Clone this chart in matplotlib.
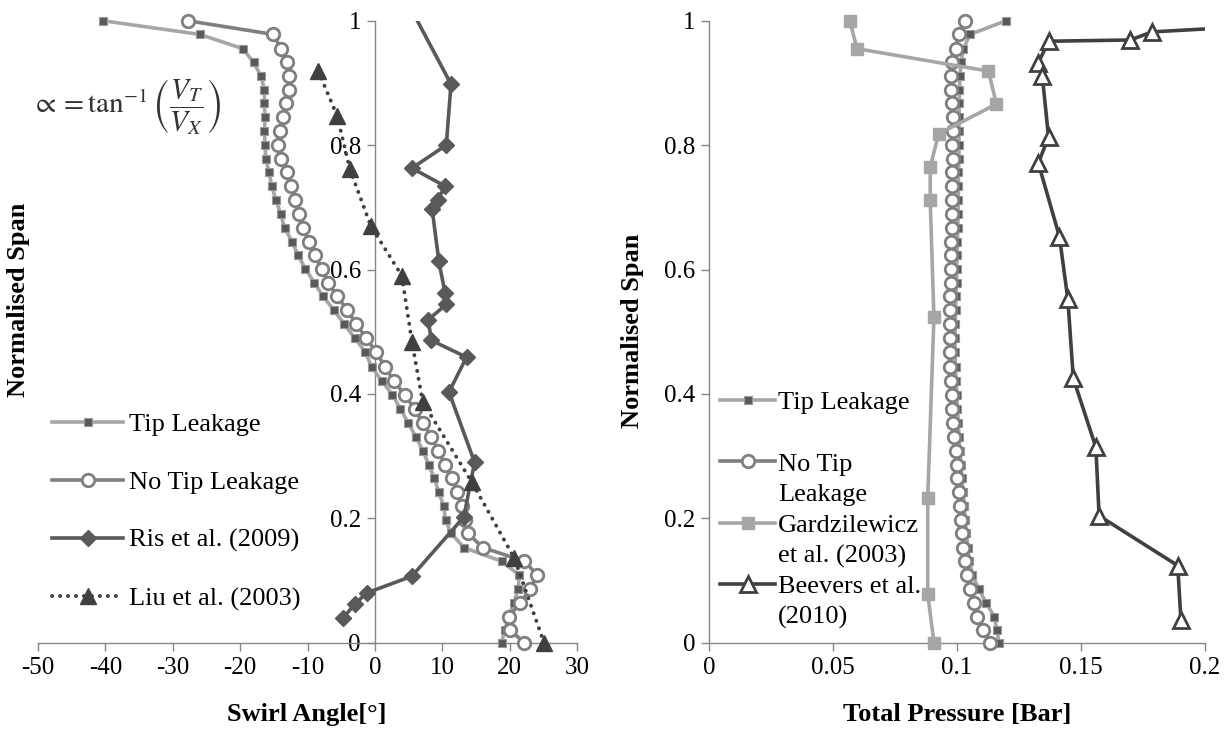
import matplotlib
matplotlib.use('Agg')
import matplotlib.pyplot as plt
from matplotlib.lines import Line2D
from matplotlib.ticker import FuncFormatter

plt.rcParams['font.family'] = ['Liberation Serif', 'DejaVu Serif']
plt.rcParams['mathtext.fontset'] = 'stix'
plt.rcParams['axes.unicode_minus'] = False

# ---------------- data ----------------
span_cfd = [1.0, 0.978, 0.955, 0.933, 0.911, 0.889, 0.867, 0.845, 0.822, 0.800,
            0.778, 0.756, 0.734, 0.712, 0.690, 0.667, 0.645, 0.623, 0.601, 0.579,
            0.557, 0.535, 0.513, 0.490, 0.467, 0.444, 0.421, 0.399, 0.376, 0.354,
            0.331, 0.309, 0.286, 0.265, 0.242, 0.220, 0.197, 0.176, 0.153, 0.131,
            0.109, 0.086, 0.064, 0.042, 0.021, 0.0]

swirl_tip = [-40.4, -26.0, -19.6, -18.0, -16.9, -16.4, -16.4, -16.3, -16.4, -16.3,
             -16.2, -15.7, -15.3, -14.7, -14.0, -13.4, -12.3, -11.4, -10.3, -9.0,
             -7.7, -6.1, -4.6, -3.0, -1.4, -0.5, 1.0, 2.6, 3.8, 4.9,
             6.1, 7.1, 8.0, 8.8, 9.5, 10.2, 10.5, 11.3, 13.2, 18.8,
             21.4, 21.3, 20.6, 19.9, 19.3, 18.8]

swirl_notip = [-27.8, -15.1, -13.9, -13.1, -12.8, -12.7, -13.2, -13.7, -14.1, -14.4,
               -13.9, -13.1, -12.4, -11.9, -11.2, -10.7, -9.8, -8.9, -7.9, -6.9,
               -5.6, -4.1, -2.8, -1.3, 0.2, 1.5, 2.8, 4.4, 5.9, 7.1,
               8.4, 9.4, 10.4, 11.4, 12.2, 12.9, 13.4, 13.8, 16.0, 22.2,
               24.1, 23.0, 21.6, 19.9, 20.1, 22.1]

ris_span = [1.05, 0.898, 0.800, 0.763, 0.734, 0.711, 0.697, 0.613, 0.563, 0.544,
            0.519, 0.486, 0.459, 0.403, 0.290, 0.202, 0.107, 0.080, 0.063, 0.040]
ris_swirl = [3.85, 11.3, 10.6, 5.5, 10.4, 9.3, 8.5, 9.5, 10.4, 10.6,
             7.9, 8.4, 13.6, 11.0, 14.8, 13.2, 5.5, -1.2, -2.9, -4.7]

liu_span = [0.919, 0.847, 0.761, 0.670, 0.590, 0.484, 0.387, 0.258, 0.136, 0.0]
liu_swirl = [-8.4, -5.6, -3.7, -0.6, 4.0, 5.5, 7.1, 14.4, 20.7, 25.1]

ptot_tip = [0.1198, 0.1053, 0.1026, 0.1016, 0.1012, 0.1010, 0.1010, 0.1008, 0.1008, 0.1008,
            0.1008, 0.1006, 0.1006, 0.1005, 0.1005, 0.1003, 0.1002, 0.1000, 0.0999, 0.0998,
            0.0996, 0.0994, 0.0993, 0.0992, 0.0992, 0.0994, 0.0996, 0.0999, 0.1002, 0.1005,
            0.1008, 0.1012, 0.1016, 0.1020, 0.1025, 0.1029, 0.1033, 0.1038, 0.1044, 0.1050,
            0.1062, 0.1088, 0.1118, 0.1150, 0.1161, 0.1169]

ptot_notip = [0.1034, 0.1008, 0.0994, 0.0981, 0.0975, 0.0975, 0.0981, 0.0983, 0.0983, 0.0981,
              0.0983, 0.0981, 0.0981, 0.0978, 0.0978, 0.0978, 0.0975, 0.0975, 0.0975, 0.0975,
              0.0973, 0.0973, 0.0973, 0.0970, 0.0970, 0.0973, 0.0975, 0.0978, 0.0981, 0.0983,
              0.0989, 0.0994, 0.0999, 0.1002, 0.1007, 0.1013, 0.1016, 0.1021, 0.1026, 0.1034,
              0.1040, 0.1053, 0.1067, 0.1080, 0.1104, 0.1134]

gard_span = [0.999, 0.955, 0.919, 0.866, 0.818, 0.765, 0.711, 0.523, 0.233, 0.078, 0.0]
gard_p = [0.0568, 0.0597, 0.1127, 0.1159, 0.0926, 0.0892, 0.0892, 0.0907, 0.0882, 0.0882, 0.0907]

beev_span = [0.990, 0.982, 0.969, 0.967, 0.932, 0.911, 0.813, 0.771, 0.653, 0.552,
             0.425, 0.314, 0.204, 0.124, 0.036]
beev_p = [0.215, 0.1786, 0.1699, 0.1369, 0.1328, 0.1344, 0.1369, 0.1328, 0.1413, 0.1447,
          0.1469, 0.1560, 0.1573, 0.1890, 0.1903]

swirl_ticks = [-50, -40, -30, -20, -10, 0, 10, 20, 30]
ptot_ticks = [0, 0.05, 0.1, 0.15, 0.2]
span_ticks = [0, 0.2, 0.4, 0.6, 0.8, 1]

# ---------------- styles ----------------
C_LIGHT = '#a6a6a6'
C_MID = '#7f7f7f'
C_DARK = '#595959'
C_DARKER = '#404040'
AX_COL = '#868686'

st_tip = dict(color=C_LIGHT, lw=2.6, marker='s', ms=6, mfc=C_DARK, mec='#9a9a9a', mew=0.8)
st_notip = dict(color=C_MID, lw=2.6, marker='o', ms=9, mfc='white', mec=C_MID, mew=2.0)
st_ris = dict(color=C_DARK, lw=2.6, marker='D', ms=8.5, mfc=C_DARK, mec=C_DARK)
st_liu = dict(color=C_DARKER, lw=2.8, ls=(0, (0.05, 2.0)), dash_capstyle='round',
              marker='^', ms=11, mfc=C_DARKER, mec=C_DARKER)
st_gard = dict(color=C_LIGHT, lw=2.6, marker='s', ms=9, mfc=C_LIGHT, mec=C_LIGHT)
st_beev = dict(color=C_DARKER, lw=2.6, marker='^', ms=11.5, mfc='white', mec=C_DARKER, mew=2.0)

TICK_FS = 18
LAB_FS = 19
LEG_FS = 19

W, H = 1231, 731
fig = plt.figure(figsize=(W / 100, H / 100), dpi=100)

y0 = (H - 642.7) / H
hgt = 622.0 / H
ax1 = fig.add_axes([38 / W, y0, 539 / W, hgt])
ax2 = fig.add_axes([709 / W, y0, 496 / W, hgt])

fmt = FuncFormatter(lambda v, p: f'{v:g}')

for ax in (ax1, ax2):
    for s in ('top', 'right'):
        ax.spines[s].set_visible(False)
    for s in ('left', 'bottom'):
        ax.spines[s].set_color(AX_COL)
        ax.spines[s].set_linewidth(1.0)
    ax.tick_params(axis='both', which='major', direction='out', length=6, width=1,
                   color=AX_COL, labelsize=TICK_FS, labelcolor='black', pad=4)
    ax.set_ylim(0, 1)
    ax.set_yticks(span_ticks)
    ax.yaxis.set_major_formatter(fmt)
    ax.xaxis.set_major_formatter(fmt)
    ax.patch.set_alpha(0)

# ---- left: swirl angle ----
ax1.set_xlim(-50, 30)
ax1.set_xticks(swirl_ticks)
ax1.spines['left'].set_position(('data', 0))

ax1.plot(swirl_tip, span_cfd, clip_on=False, zorder=3, **st_tip)
ax1.plot(swirl_notip, span_cfd, clip_on=False, zorder=4, **st_notip)
ax1.plot(ris_swirl, ris_span, clip_on=True, zorder=5, markevery=slice(1, None), **st_ris)
ax1.plot(liu_swirl, liu_span, clip_on=False, zorder=6, **st_liu)

fig.text(19 / W, 1 - 300 / H, 'Normalised Span', rotation=90, ha='center', va='center',
         fontsize=LAB_FS, fontweight='bold')
fig.text(307 / W, 1 - 715 / H, 'Swirl Angle[°]', ha='center', va='center',
         fontsize=LAB_FS, fontweight='bold')

fig.text(126 / W, 1 - 106 / H, r'$\propto = \tan^{-1}\left(\dfrac{V_T}{V_X}\right)$',
         ha='center', va='center', fontsize=21, color='#333333')

h_tip = Line2D([], [], **st_tip)
h_notip = Line2D([], [], **st_notip)
h_ris = Line2D([], [], **st_ris)
h_liu = Line2D([], [], **st_liu)
fig.legend([h_tip, h_notip, h_ris, h_liu],
           ['Tip Leakage', 'No Tip Leakage', 'Ris et al. (2009)', 'Liu et al. (2003)'],
           loc='upper left', bbox_to_anchor=(52 / W, 1 - 413 / H),
           frameon=False, fontsize=LEG_FS, numpoints=1,
           handlelength=2.7, handletextpad=0.2, labelspacing=1.3,
           borderpad=0, borderaxespad=0)

# ---- right: total pressure ----
ax2.set_xlim(0, 0.2)
ax2.set_xticks(ptot_ticks)

ax2.plot(ptot_tip, span_cfd, clip_on=False, zorder=3, **st_tip)
ax2.plot(ptot_notip, span_cfd, clip_on=False, zorder=4, **st_notip)
ax2.plot(gard_p, gard_span, clip_on=False, zorder=5, **st_gard)
ax2.plot(beev_p, beev_span, clip_on=True, zorder=6, markevery=slice(1, None), **st_beev)

fig.text(632 / W, 1 - 331 / H, 'Normalised Span', rotation=90, ha='center', va='center',
         fontsize=LAB_FS, fontweight='bold')
fig.text(957 / W, 1 - 715 / H, 'Total Pressure [Bar]', ha='center', va='center',
         fontsize=LAB_FS, fontweight='bold')

h_gard = Line2D([], [], **st_gard)
h_beev = Line2D([], [], **st_beev)
h_none = Line2D([], [], ls='none', marker='none')
fig.legend([h_tip, h_none, h_notip, h_none, h_gard, h_none, h_beev, h_none],
           ['Tip Leakage', ' ', 'No Tip', 'Leakage', 'Gardzilewicz', 'et al. (2003)',
            'Beevers et al.', '(2010)'],
           loc='upper left', bbox_to_anchor=(720 / W, 1 - 391 / H),
           frameon=False, fontsize=LEG_FS, numpoints=1,
           handlelength=2.1, handletextpad=0.1, labelspacing=0.27,
           borderpad=0, borderaxespad=0)

fig.savefig('out.png', dpi=100)
